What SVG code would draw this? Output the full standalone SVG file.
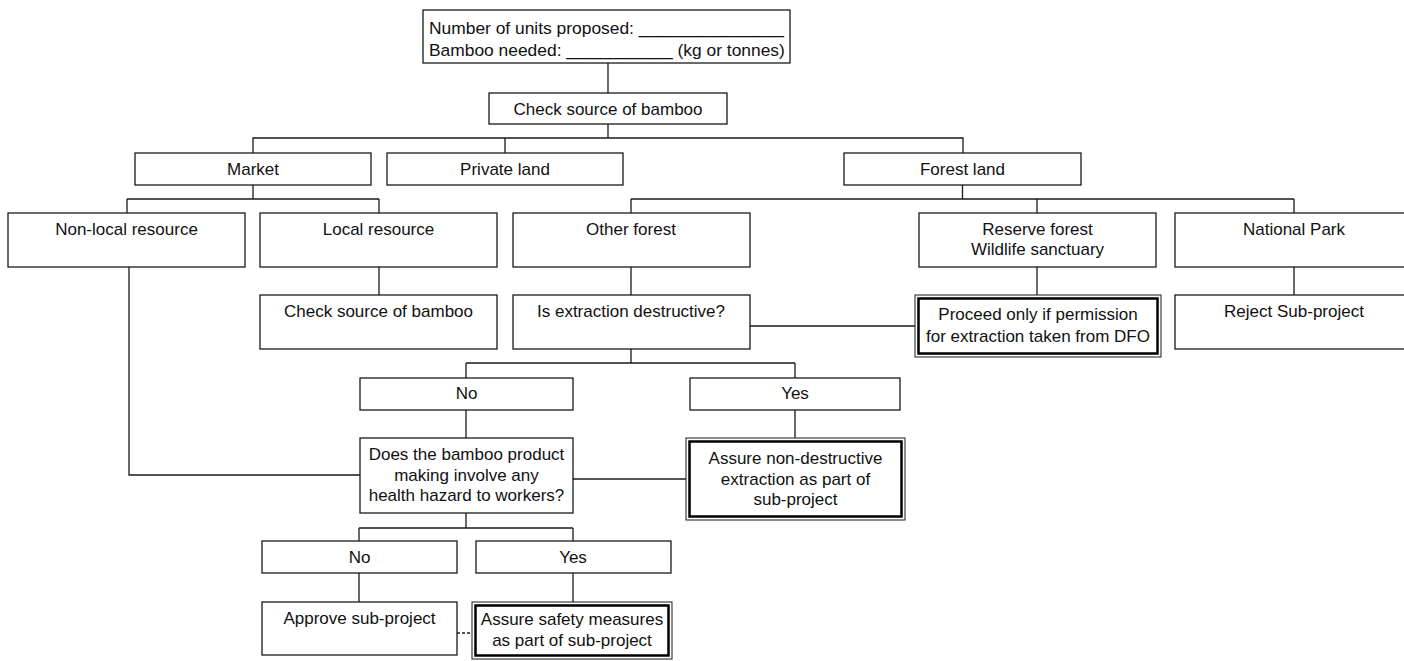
<svg xmlns="http://www.w3.org/2000/svg" width="1404" height="661" viewBox="0 0 1404 661">
<style>
.box{fill:#fff;stroke:#1a1a1a;stroke-width:1.3}
.outer{fill:#fff;stroke:#1a1a1a;stroke-width:1}
.inner{fill:none;stroke:#000;stroke-width:2.5}
.conn path{fill:none;stroke:#1a1a1a;stroke-width:1.3}
.conn .dash{stroke-dasharray:3 2}
text{font-family:"Liberation Sans",Arial,sans-serif;font-size:17px;fill:#111;text-anchor:middle}
.left{text-anchor:start;font-size:17.4px}
</style>
<rect width="1404" height="661" fill="#fff"/>
<g class="conn" id="connectors">
<path d="M608,63V93"/>
<path d="M608,124V138"/>
<path d="M253,153V138H963V153M505,138V153"/>
<path d="M253,185V199M127,199H379M127,199V213M379,199V213"/>
<path d="M962.5,185V199M631,199H1294M631,199V213M1037,199V213M1294,199V213"/>
<path d="M379,267V295M631,267V295M1037,267V295M1294,267V295"/>
<path d="M750,326H915"/>
<path d="M631,349V363M466,363H795M466,363V378M795,363V378"/>
<path d="M466,410V438M795,410V438"/>
<path d="M129,267V475H360"/>
<path d="M573,479H686"/>
<path d="M466,513V528M359,528H573M359,528V541M573,528V541"/>
<path d="M359,573V602M573,573V602"/>
<path class="dash" d="M457,633H472"/>
</g>
<g id="n-top"><rect class="box" x="423" y="10" width="367" height="53"/><text class="left" x="429" y="34">Number of units proposed: _______________</text><text class="left" x="429" y="56">Bamboo needed: ___________ (kg or tonnes)</text></g>
<g id="n-check1"><rect class="box" x="489" y="93" width="238" height="31"/><text x="608" y="115">Check source of bamboo</text></g>
<g id="n-market"><rect class="box" x="135" y="153" width="236" height="32"/><text x="253" y="175">Market</text></g>
<g id="n-private"><rect class="box" x="387" y="153" width="236" height="32"/><text x="505" y="175">Private land</text></g>
<g id="n-forest"><rect class="box" x="844" y="153" width="237" height="32"/><text x="962.5" y="175">Forest land</text></g>
<g id="n-nonlocal"><rect class="box" x="8" y="213" width="237" height="54"/><text x="126.5" y="235">Non-local resource</text></g>
<g id="n-local"><rect class="box" x="260" y="213" width="237" height="54"/><text x="378.5" y="235">Local resource</text></g>
<g id="n-other"><rect class="box" x="513" y="213" width="237" height="54"/><text x="631" y="235">Other forest</text></g>
<g id="n-reserve"><rect class="box" x="919" y="213" width="237" height="54"/><text x="1037.5" y="235">Reserve forest</text><text x="1037.5" y="255">Wildlife sanctuary</text></g>
<g id="n-natpark"><rect class="box" x="1175" y="213" width="240" height="54"/><text x="1294" y="235">National Park</text></g>
<g id="n-check2"><rect class="box" x="260" y="295" width="237" height="54"/><text x="378.5" y="317">Check source of bamboo</text></g>
<g id="n-isext"><rect class="box" x="513" y="295" width="237" height="54"/><text x="631" y="317">Is extraction destructive?</text></g>
<g id="n-proceed"><rect class="outer" x="915" y="295" width="246" height="62"/><rect class="inner" x="918.5" y="298.5" width="239" height="55"/><text x="1038" y="320">Proceed only if permission</text><text x="1038" y="342">for extraction taken from DFO</text></g>
<g id="n-reject"><rect class="box" x="1175" y="295" width="240" height="54"/><text x="1294" y="317">Reject Sub-project</text></g>
<g id="n-no1"><rect class="box" x="360" y="378" width="213" height="32"/><text x="466.5" y="399">No</text></g>
<g id="n-yes1"><rect class="box" x="690" y="378" width="210" height="32"/><text x="795" y="399">Yes</text></g>
<g id="n-does"><rect class="box" x="360" y="438" width="213" height="75"/><text x="466.5" y="460">Does the bamboo product</text><text x="466.5" y="481">making involve any</text><text x="466.5" y="501">health hazard to workers?</text></g>
<g id="n-assure1"><rect class="outer" x="686" y="438" width="219" height="82"/><rect class="inner" x="689.5" y="441.5" width="212" height="75"/><text x="795.5" y="464">Assure non-destructive</text><text x="795.5" y="485">extraction as part of</text><text x="795.5" y="505">sub-project</text></g>
<g id="n-no2"><rect class="box" x="262" y="541" width="195" height="32"/><text x="359.5" y="563">No</text></g>
<g id="n-yes2"><rect class="box" x="476" y="541" width="195" height="32"/><text x="573" y="563">Yes</text></g>
<g id="n-approve"><rect class="box" x="262" y="602" width="195" height="53"/><text x="359.5" y="624">Approve sub-project</text></g>
<g id="n-assure2"><rect class="outer" x="472" y="602" width="200" height="57"/><rect class="inner" x="475.5" y="605.5" width="193" height="50"/><text x="572" y="625">Assure safety measures</text><text x="572" y="646">as part of sub-project</text></g>
</svg>
